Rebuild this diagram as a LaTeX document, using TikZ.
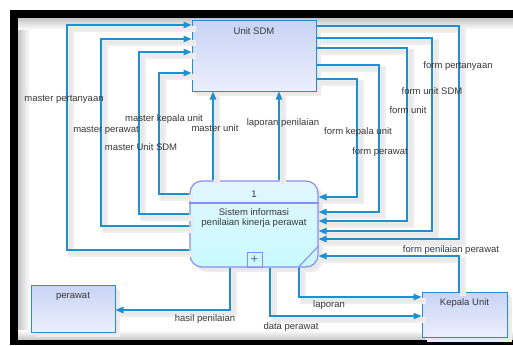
\documentclass[tikz,border=0pt]{standalone}
\usepackage{fontspec}
\setmainfont{Liberation Sans}
\usetikzlibrary{arrows.meta}
\definecolor{flowc}{RGB}{30,144,210}
\definecolor{sdmA}{RGB}{200,212,245}
\definecolor{sdmB}{RGB}{236,239,253}
\definecolor{sdmline}{RGB}{40,140,210}
\definecolor{procA}{RGB}{226,246,255}
\definecolor{procB}{RGB}{200,250,255}
\definecolor{procline}{RGB}{140,140,240}
\definecolor{txt}{RGB}{55,55,55}
\newcommand\myflows[1]{%
  % left side: process -> Unit SDM
  \draw[#1] (proc.west |- 0,250) -| (67,25) -- (sdm.west |- 0,25);
  \draw[#1] (proc.west |- 0,226) -| (101,39) -- (sdm.west |- 0,39);
  \draw[#1] (proc.west |- 0,214) -| (139,52) -- (sdm.west |- 0,52);
  \draw[#1] (proc.west |- 0,194) -| (159,73) -- (sdm.west |- 0,73);
  \draw[#1] (proc.north -| 213,0) -- (sdm.south -| 213,0);
  \draw[#1] (proc.north -| 279,0) -- (sdm.south -| 279,0);
  % right side: Unit SDM -> process
  \draw[#1] (sdm.east |- 0,26) -| (459,239) -- (proc.east |- 0,239);
  \draw[#1] (sdm.east |- 0,38) -| (432,231) -- (proc.east |- 0,231);
  \draw[#1] (sdm.east |- 0,48) -| (407,221) -- (proc.east |- 0,221);
  \draw[#1] (sdm.east |- 0,65) -| (379,212) -- (proc.east |- 0,212);
  \draw[#1] (sdm.east |- 0,79) -| (357,197) -- (proc.east |- 0,197);
  % Kepala Unit
  \draw[#1] (ku.north -| 459,0) |- (proc.east |- 0,256);
  \draw[#1] (proc.south -| 299,0) |- (ku.west |- 0,297);
  \draw[#1] (proc.south -| 270,0) |- (ku.west |- 0,316);
  % perawat
  \draw[#1] (proc.south -| 230,0) |- (per.east |- 0,310);
}
\begin{document}
\begin{tikzpicture}[x=1pt,y=-1pt,
  font=\fontsize{9.5}{11}\selectfont,
  boxshadow/.style={preaction={fill=gray!14, draw=none, transform canvas={xshift=5pt,yshift=-5pt}},
                    preaction={fill=gray!18, draw=none, transform canvas={xshift=3pt,yshift=-3pt}}},
  ent/.style={draw=sdmline, line width=1pt, top color=sdmA, bottom color=sdmB,
    boxshadow, inner sep=0pt, text=txt},
  procbox/.style={draw=procline, line width=1.2pt, top color=procA, bottom color=procB,
    rounded corners=12pt, boxshadow, inner sep=0pt},
  flowline/.style={draw=flowc, line width=1.1pt, -{Triangle[length=8pt,width=6.5pt]}},
  shadowline/.style={draw=gray!13, line width=6pt, -, transform canvas={xshift=4pt,yshift=-4pt}},
  shadowcore/.style={draw=gray!17, line width=2.5pt, -, transform canvas={xshift=3.5pt,yshift=-3.5pt}},
  lbl/.style={text=txt, inner sep=0pt}
]
\useasboundingbox (0,0) rectangle (513,345);
\fill[white] (0,0) rectangle (513,345);
% frame
\shade[left color=gray!45, right color=white] (18,18) rectangle (30,340);
\shade[top color=gray!45, bottom color=white] (18,18) rectangle (513,30);
\shade[top color=white, bottom color=gray!45] (18,330) rectangle (513,340);
\fill[black] (10,10) rectangle (513,18);
\fill[black] (10,10) rectangle (18,345);
\fill[black] (10,340) rectangle (513,345);

% nodes
\node[ent, minimum width=124pt, minimum height=70pt,
  label={[anchor=north, yshift=-4pt, text=txt]north:Unit SDM}] (sdm) at (254,56) {};
\node[ent, minimum width=84pt, minimum height=47pt,
  label={[anchor=north, yshift=-4pt, text=txt]north:perawat}] (per) at (73,308.5) {};
\node[ent, minimum width=85pt, minimum height=45pt,
  label={[anchor=north, yshift=-4pt, text=txt]north:Kepala Unit}] (ku) at (464.5,314.5) {};
\node[procbox, minimum width=128pt, minimum height=86pt] (proc) at (254,224) {};

% flows
\myflows{shadowline}
\myflows{shadowcore}
\myflows{flowline}

% process internals
\draw[procline, line width=1.1pt] (proc.west |- 0,203) -- (proc.east |- 0,203);
\draw[procline, line width=1.1pt] (proc.south -| 298,0) -- (proc.east |- 0,246);
\node[draw=procline, line width=1pt, minimum size=15pt, inner sep=0pt, anchor=south,
  text=procline!70!black, font=\fontsize{13}{13}\selectfont] (plus) at (proc.south -| 254.5,0) {+};
\node[lbl] (pnum) at (254,194) {1};
\node[lbl] (pt1) at (254,212) {Sistem informasi};
\node[lbl] (pt2) at (254,223) {penilaian kinerja perawat};

% flow labels
\node[lbl] (l1) at (64,99) {master pertanyaan};
\node[lbl] (l2) at (106,130) {master perawat};
\node[lbl] (l3) at (164,119) {master kepala unit};
\node[lbl] (l4) at (141,147) {master Unit SDM};
\node[lbl] (l5) at (215,128) {master unit};
\node[lbl] (l6) at (283,123) {laporan penilaian};
\node[lbl] (r1) at (458,66) {form pertanyaan};
\node[lbl] (r2) at (432,91) {form unit SDM};
\node[lbl] (r3) at (408,110) {form unit};
\node[lbl] (r4) at (358,132) {form kepala unit};
\node[lbl] (r5) at (380,152) {form perawat};
\node[lbl] (k1) at (451,250) {form penilaian perawat};
\node[lbl] (k2) at (329,305) {laporan};
\node[lbl] (k3) at (291,327) {data perawat};
\node[lbl] (p1) at (205,319) {hasil penilaian};
\end{tikzpicture}
\end{document}
